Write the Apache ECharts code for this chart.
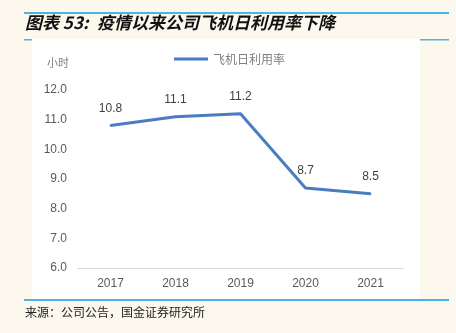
<!DOCTYPE html>
<html>
<head>
<meta charset="utf-8">
<script src="https://cdn.jsdelivr.net/npm/echarts@6/dist/echarts.min.js"></script>
<style>
  html, body { margin: 0; padding: 0; background: #fdf8ee; }
  #chart { width: 456px; height: 333px; }
</style>
</head>
<body>
<div id="chart"></div>
<script>
// Aircraft daily utilisation (hours per day), 2017-2021
const years = ['2017', '2018', '2019', '2020', '2021'];
const utilisation = [10.8, 11.1, 11.2, 8.7, 8.5];
const seriesName = '飞机日利用率';
const yTicks = { min: 6, max: 12, interval: 1 };

const chart = echarts.init(document.getElementById('chart'), null, { renderer: 'canvas' });
const ruleColor = '#4bb3e6';
const lineColor = '#4a7dbf';

chart.setOption({
  backgroundColor: '#fdf8ee',
  animation: false,
  textStyle: { fontFamily: 'Liberation Sans, Arial, sans-serif' },
  graphic: [
    { type: 'rect', shape: { x: 32, y: 39, width: 388, height: 261 }, style: { fill: '#ffffff' }, z: -10 },
    { type: 'rect', shape: { x: 24, y: 12, width: 425, height: 2 }, style: { fill: ruleColor } },
    { type: 'rect', shape: { x: 24, y: 39, width: 8, height: 1.5 }, style: { fill: ruleColor } },
    { type: 'rect', shape: { x: 420, y: 39, width: 29, height: 1.5 }, style: { fill: ruleColor } },
    { type: 'rect', shape: { x: 24, y: 299, width: 425, height: 2 }, style: { fill: ruleColor } },
    { type: 'text', left: 25, top: 14, style: { text: '图表 53:\u2002疫情以来公司飞机日利用率下降', fill: '#111', font: 'italic bold 17px "Noto Sans CJK SC", sans-serif' } },
    { type: 'text', left: 25, top: 306, style: { text: '来源：公司公告，国金证券研究所', fill: '#222', font: '12px "Noto Sans CJK SC", serif' } },
    { type: 'text', left: 47, top: 57, style: { text: '小时', fill: '#7f7f7f', font: '11px "Noto Sans CJK SC", sans-serif' } }
  ],
  legend: {
    top: 53,
    left: 174,
    padding: 0,
    itemWidth: 34,
    itemHeight: 10,
    itemGap: 3,
    data: [{ name: seriesName, icon: 'path://M0,3.5 L34,3.5 L34,6.5 L0,6.5 Z' }],
    textStyle: { color: '#7f7f7f', fontSize: 12, fontFamily: '"Noto Sans CJK SC", sans-serif' }
  },
  grid: { left: 78, right: 53, top: 90, bottom: 65, containLabel: false },
  xAxis: {
    type: 'category',
    data: years,
    boundaryGap: true,
    axisLine: { lineStyle: { color: '#d9d9d9', width: 1 } },
    axisTick: { show: false },
    axisLabel: { color: '#595959', fontSize: 12, margin: 10 }
  },
  yAxis: {
    type: 'value',
    min: yTicks.min,
    max: yTicks.max,
    interval: yTicks.interval,
    axisLine: { show: false },
    axisTick: { show: false },
    splitLine: { show: false },
    axisLabel: { color: '#595959', fontSize: 12, margin: 11, formatter: v => v.toFixed(1) }
  },
  series: [{
    name: seriesName,
    type: 'line',
    data: utilisation,
    symbol: 'circle',
    symbolSize: 2,
    showSymbol: true,
    lineStyle: { color: lineColor, width: 3 },
    itemStyle: { color: lineColor },
    label: {
      show: true,
      position: 'top',
      distance: 10,
      color: '#404040',
      fontSize: 12,
      formatter: p => p.value.toFixed(1)
    }
  }]
});
</script>
</body>
</html>
